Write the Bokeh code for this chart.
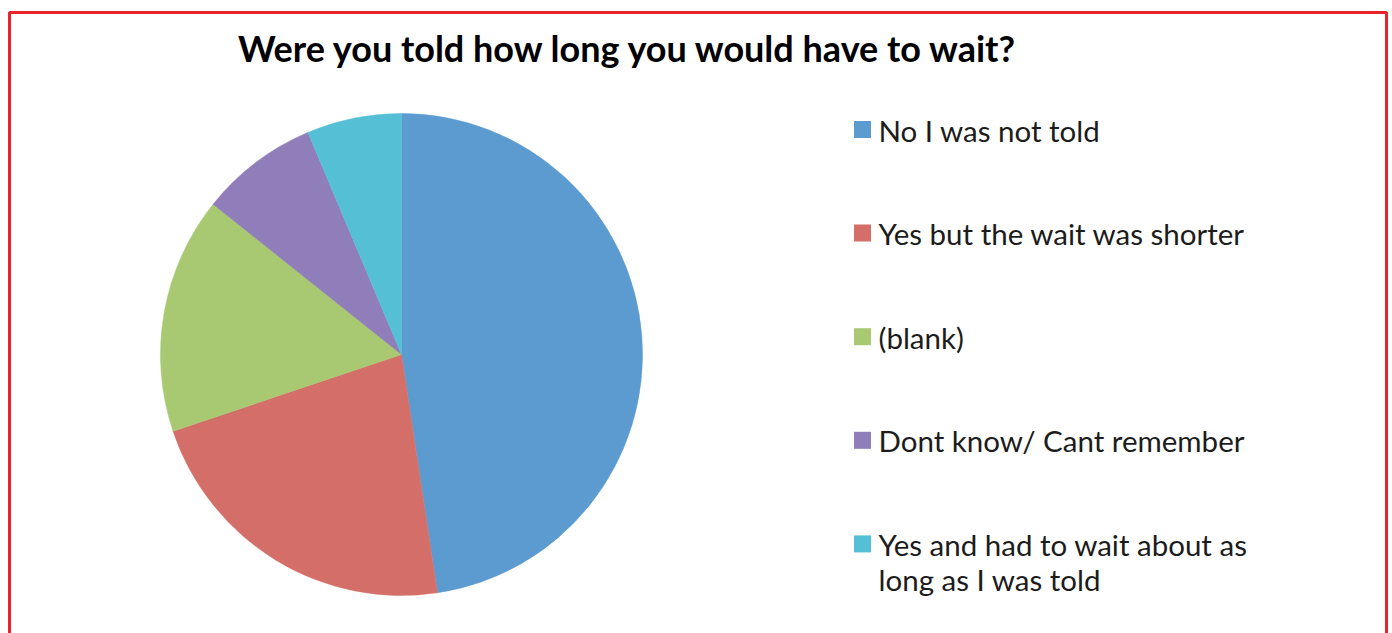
import math
from bokeh.plotting import figure
from bokeh.models import Range1d, ColumnDataSource
from bokeh.core.properties import value
from bokeh.embed import file_html
from bokeh.resources import INLINE

# ---- data ----
title = "Were you told how long you would have to wait?"
categories = [
    "No I was not told",
    "Yes but the wait was shorter",
    "(blank)",
    "Dont know/ Cant remember",
    "Yes and had to wait about as\nlong as I was told",
]
counts = [60, 28, 20, 10, 8]
colors = ["#5b9bd0", "#d46e68", "#a8c972", "#8f7eb9", "#55bfd6"]

W, H = 1392, 633
def Y(py):
    return H - py

p = figure(width=W, height=H, output_backend="svg", toolbar_location=None,
           x_range=Range1d(0, W), y_range=Range1d(0, H), min_border=0)
p.axis.visible = False
p.grid.visible = False
p.outline_line_color = None
p.background_fill_color = "white"
p.border_fill_color = "white"

# ---- pie ----
total = sum(counts)
starts, ends = [], []
cum = 0
for c in counts:
    starts.append(math.pi / 2 - 2 * math.pi * cum / total)
    cum += c
    ends.append(math.pi / 2 - 2 * math.pi * cum / total)
src = ColumnDataSource(dict(start=starts, end=ends, color=colors, cat=categories))
cx, cy, r = 401, Y(354), 241
p.wedge(x=cx, y=cy, radius=r, start_angle="start", end_angle="end",
        direction="clock", fill_color="color", line_color="color", line_width=0.5,
        source=src)

# ---- legend ----
row_py = [130 + i * 103.6 for i in range(len(categories))]
font_size = 29.5
line_h = 1.0
gap = 35
text_py = []
for rp, cat in zip(row_py, categories):
    n = cat.count("\n") + 1
    text_py.append(rp - 0.5 + (n - 1) * gap / 2)
p.rect(x=[862] * len(categories), y=[Y(v - 1) for v in row_py], width=17, height=17,
       fill_color=colors, line_color=None)
p.text(x=[878] * len(categories), y=[Y(v) for v in text_py], text=categories,
       text_font=value("Lato"), text_font_size=f"{font_size}px",
       text_color="#1c1c1c", text_baseline="middle", text_align="left",
       text_line_height=line_h)

# ---- title ----
p.text(x=[628], y=[Y(47)], text=[title], text_font=value("Lato"),
       text_font_style="bold", text_font_size="36px", text_color="black",
       text_align="center", text_baseline="middle")

# ---- red frame ----
p.line(x=[9, 9, 1386, 1386], y=[-20, Y(12), Y(12), -20],
       line_color="#e8232a", line_width=3)

open("out.html", "w").write(file_html(p, INLINE))
